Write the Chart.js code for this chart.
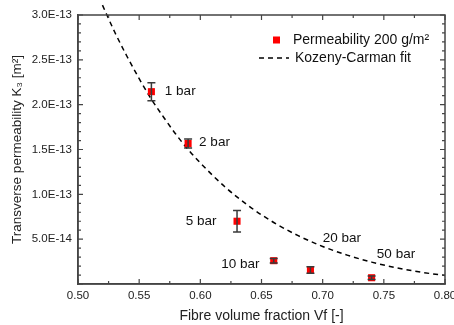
<!DOCTYPE html>
<html>
<head>
<meta charset="utf-8">
<script src="https://cdn.jsdelivr.net/npm/chart.js@4.4.1/dist/chart.umd.min.js"></script>
<style>
  html, body { margin: 0; padding: 0; background: #fff; }
  #wrap { width: 454px; height: 325px; }
</style>
</head>
<body>
<div id="wrap"><canvas id="c" width="454" height="325"></canvas></div>
<script>
// ---- data ----
const seriesName = 'Permeability 200 g/m\u00B2';
const fitName = 'Kozeny-Carman fit';
const vf = [0.56, 0.59, 0.63, 0.66, 0.69, 0.74];
const permeability = [2.145e-13, 1.567e-13, 0.70e-13, 2.6e-14, 1.56e-14, 0.7e-14];
const permeabilityErr = [0.10e-13, 0.05e-13, 0.12e-13, 0.25e-14, 0.35e-14, 0.2e-14];

const fitVf = [0.52, 0.53, 0.54, 0.55, 0.56, 0.57, 0.58, 0.59, 0.60, 0.62, 0.64, 0.66, 0.68, 0.70, 0.72, 0.74, 0.76, 0.78, 0.80, 0.81];
const fitK = [3.11e-13, 2.81e-13, 2.54e-13, 2.29e-13, 2.06e-13, 1.86e-13, 1.67e-13, 1.50e-13, 1.35e-13, 1.085e-13, 8.66e-14, 6.86e-14, 5.39e-14, 4.19e-14, 3.22e-14, 2.44e-14, 1.82e-14, 1.33e-14, 0.95e-14, 0.79e-14];

const pressureLabels = ['1 bar', '2 bar', '5 bar', '10 bar', '20 bar', '50 bar'];
const labelVf = [0.571, 0.599, 0.588, 0.617, 0.700, 0.7443];
const labelK = [2.145e-13, 1.578e-13, 0.70e-13, 2.2e-14, 5.1e-14, 3.33e-14];

const xTicks = [0.50, 0.55, 0.60, 0.65, 0.70, 0.75, 0.80];
const yTicks = [5e-14, 1e-13, 1.5e-13, 2e-13, 2.5e-13, 3e-13];

const FONT = '"Liberation Sans", Arial, sans-serif';
const AXIS_COLOR = '#444';

function fmtY(v) {
  if (Math.abs(v) < 1e-16) return '';
  return v.toExponential(1).toUpperCase();
}

const framePlugin = {
  id: 'frame',
  afterDraw(chart) {
    const ctx = chart.ctx, a = chart.chartArea;
    const xs = chart.scales.x, ys = chart.scales.y;
    ctx.save();
    ctx.strokeStyle = AXIS_COLOR;
    ctx.lineWidth = 1.5;
    ctx.strokeRect(a.left, a.top, a.right - a.left, a.bottom - a.top);
    ctx.lineWidth = 1.2;
    for (let i = 0; i <= 12; i++) {
      const v = xs.min + i * 0.025;
      const px = xs.getPixelForValue(v);
      const len = (i % 2 === 0) ? 5 : 3;
      ctx.beginPath();
      ctx.moveTo(px, a.bottom); ctx.lineTo(px, a.bottom - len);
      ctx.moveTo(px, a.top); ctx.lineTo(px, a.top + len);
      ctx.stroke();
    }
    for (let i = 0; i <= 30; i++) {
      const v = ys.min + i * 1e-14;
      const py = ys.getPixelForValue(v);
      const len = (i % 5 === 0) ? 5 : 3;
      ctx.beginPath();
      ctx.moveTo(a.left, py); ctx.lineTo(a.left + len, py);
      ctx.moveTo(a.right, py); ctx.lineTo(a.right - len, py);
      ctx.stroke();
    }
    ctx.restore();
  }
};

const errorBarPlugin = {
  id: 'errorBars',
  afterDatasetsDraw(chart) {
    const ctx = chart.ctx;
    const xs = chart.scales.x, ys = chart.scales.y;
    ctx.save();
    ctx.strokeStyle = '#3a3a3a';
    ctx.lineWidth = 1.5;
    for (let i = 0; i < vf.length; i++) {
      const px = xs.getPixelForValue(vf[i]);
      const top = ys.getPixelForValue(permeability[i] + permeabilityErr[i]);
      const bot = ys.getPixelForValue(permeability[i] - permeabilityErr[i]);
      ctx.beginPath();
      ctx.moveTo(px, top); ctx.lineTo(px, bot);
      ctx.moveTo(px - 4, top); ctx.lineTo(px + 4, top);
      ctx.moveTo(px - 4, bot); ctx.lineTo(px + 4, bot);
      ctx.stroke();
    }
    ctx.restore();
  }
};

const labelPlugin = {
  id: 'pressureLabels',
  afterDraw(chart) {
    const ctx = chart.ctx;
    const xs = chart.scales.x, ys = chart.scales.y;
    ctx.save();
    ctx.font = '13.5px ' + FONT;
    ctx.fillStyle = '#111';
    ctx.textAlign = 'left';
    ctx.textBaseline = 'middle';
    for (let i = 0; i < pressureLabels.length; i++) {
      ctx.fillText(pressureLabels[i], xs.getPixelForValue(labelVf[i]), ys.getPixelForValue(labelK[i]));
    }
    ctx.restore();
  }
};

const legendPlugin = {
  id: 'innerLegend',
  afterDraw(chart) {
    const ctx = chart.ctx, a = chart.chartArea;
    const x0 = a.right - 186, y0 = a.top + 25;
    ctx.save();
    ctx.font = '14px ' + FONT;
    ctx.textBaseline = 'middle';
    ctx.textAlign = 'left';
    ctx.fillStyle = '#ff0000';
    ctx.fillRect(x0 + 14, y0 - 3.5, 7, 7);
    ctx.fillStyle = '#111';
    ctx.fillText(chart.data.datasets[0].label, x0 + 34, y0);
    ctx.strokeStyle = '#000';
    ctx.lineWidth = 1.5;
    ctx.setLineDash([5, 4]);
    ctx.beginPath();
    ctx.moveTo(x0, y0 + 18); ctx.lineTo(x0 + 30, y0 + 18);
    ctx.stroke();
    ctx.setLineDash([]);
    ctx.fillText(chart.data.datasets[1].label, x0 + 36, y0 + 18);
    ctx.restore();
  }
};

new Chart(document.getElementById('c'), {
  type: 'scatter',
  data: {
    datasets: [
      {
        label: seriesName,
        data: vf.map((x, i) => ({ x: x, y: permeability[i] })),
        pointStyle: 'rect',
        pointRadius: 5,
        pointBackgroundColor: '#ff0000',
        pointBorderWidth: 0,
        showLine: false,
        order: 0
      },
      {
        label: fitName,
        type: 'line',
        data: fitVf.map((x, i) => ({ x: x, y: fitK[i] })),
        borderColor: '#000',
        borderWidth: 1.5,
        borderDash: [5, 4],
        pointRadius: 0,
        fill: false,
        tension: 0.4,
        cubicInterpolationMode: 'monotone',
        clip: false,
        order: 1
      }
    ]
  },
  options: {
    responsive: false,
    animation: false,
    devicePixelRatio: 1,
    layout: { padding: { top: 15, right: 9, left: 0, bottom: 0 } },
    plugins: { legend: { display: false }, tooltip: { enabled: false } },
    scales: {
      x: {
        type: 'linear',
        min: 0.5, max: 0.8,
        afterFit(s) { s.height = 41; s.paddingLeft = 0; s.paddingRight = 0; },
        afterBuildTicks(s) { s.ticks = xTicks.map(v => ({ value: v })); },
        ticks: {
          callback: v => v.toFixed(2),
          color: '#222',
          font: { family: FONT, size: 11.5 },
          padding: 5,
          maxRotation: 0
        },
        grid: { display: false, drawTicks: false },
        border: { display: true, color: AXIS_COLOR, width: 1.5 },
        title: {
          display: true,
          text: 'Fibre volume fraction Vf [-]',
          color: '#222',
          font: { family: FONT, size: 14 },
          padding: { top: 1, bottom: 0 }
        }
      },
      y: {
        type: 'linear',
        min: 0, max: 3e-13,
        afterFit(s) { s.width = 78; s.paddingTop = 0; s.paddingBottom = 0; },
        afterBuildTicks(s) { s.ticks = yTicks.map(v => ({ value: v })); },
        ticks: {
          callback: v => fmtY(v),
          color: '#222',
          font: { family: FONT, size: 11.5 },
          padding: 6
        },
        grid: { display: false, drawTicks: false },
        border: { display: true, color: AXIS_COLOR, width: 1.5 },
        title: {
          display: true,
          text: 'Transverse permeability K\u2083 [m\u00B2]',
          color: '#222',
          font: { family: FONT, size: 13.5 },
          padding: { top: 9, bottom: 0 }
        }
      }
    }
  },
  plugins: [framePlugin, errorBarPlugin, labelPlugin, legendPlugin]
});
</script>
</body>
</html>
